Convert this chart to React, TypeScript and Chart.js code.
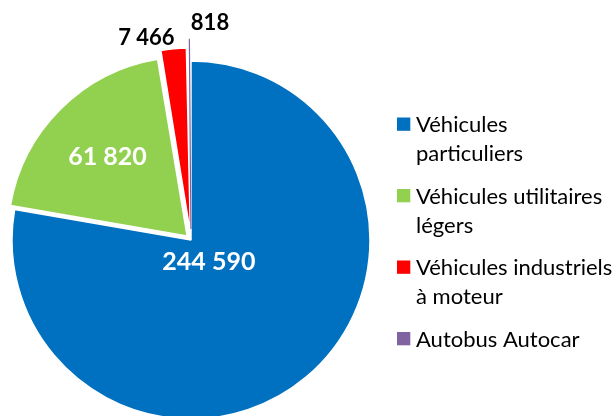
import React, { useEffect, useRef } from 'react';
import { Chart, registerables } from 'chart.js';

Chart.register(...registerables);

const categories = [
  'Véhicules particuliers',
  'Véhicules utilitaires légers',
  'Véhicules industriels à moteur',
  'Autobus Autocar',
];
const values = [244590, 61820, 7466, 818];
const colors = ['#0070C0', '#92D050', '#FF0000', '#8064A2'];
const explode = [0, 22, 28, 44];

const fmt = (v: number) => v.toString().replace(/\B(?=(\d{3})+(?!\d))/g, ' ');

const FONT = 'Lato, "Open Sans", sans-serif';

const sliceLabels = {
  id: 'sliceLabels',
  afterDatasetsDraw(chart: any) {
    const ctx = chart.ctx;
    const meta = chart.getDatasetMeta(0);
    meta.data.forEach((arc: any, i: number) => {
      const { x, y, startAngle, endAngle, outerRadius, circumference } = arc.getProps(
        ['x', 'y', 'startAngle', 'endAngle', 'outerRadius', 'circumference'],
        true
      );
      const off = explode[i] / 4;
      const fix = 1 - Math.sin(Math.min(Math.PI, circumference));
      const mid = (startAngle + endAngle) / 2;
      const cx = x + Math.cos(mid) * off;
      const cy = y + Math.sin(mid) * off;
      const R = outerRadius + off * fix;
      const text = fmt(values[i]);
      ctx.save();
      if (i < 2) {
        const size = 25;
        ctx.font = `bold ${size}px ${FONT}`;
        ctx.fillStyle = '#ffffff';
        ctx.textAlign = 'center';
        ctx.textBaseline = 'alphabetic';
        const d = i === 0 ? 0.155 * R : 0.63 * R;
        ctx.fillText(text, cx + Math.cos(mid) * d, cy + Math.sin(mid) * d + 0.358 * size);
      } else {
        const size = 22;
        ctx.font = `bold ${size}px ${FONT}`;
        ctx.fillStyle = '#000000';
        ctx.textBaseline = 'alphabetic';
        const px = cx + Math.cos(mid) * R;
        const py = cy + Math.sin(mid) * R;
        if (i === 2) {
          ctx.textAlign = 'right';
          ctx.fillText(text, px + 1, py - 4);
        } else {
          ctx.textAlign = 'left';
          ctx.fillText(text, px + 1.5, py - 9);
        }
      }
      ctx.restore();
    });
  },
};

const sideLegend = {
  id: 'sideLegend',
  afterDraw(chart: any) {
    const ctx = chart.ctx;
    const size = 22;
    const x0 = 397;
    const tx = 416;
    const maxW = 201;
    ctx.save();
    ctx.font = `${size}px ${FONT}`;
    ctx.textAlign = 'left';
    ctx.textBaseline = 'alphabetic';
    categories.forEach((label, i) => {
      const base = 132 + 71.5 * i;
      ctx.fillStyle = colors[i];
      ctx.fillRect(x0, base - 14.5, 13.3, 13.3);
      const words = label.split(' ');
      const lines: string[] = [];
      let cur = '';
      words.forEach((w) => {
        const t = cur ? cur + ' ' + w : w;
        if (cur && ctx.measureText(t).width > maxW) {
          lines.push(cur);
          cur = w;
        } else cur = t;
      });
      if (cur) lines.push(cur);
      ctx.fillStyle = '#000000';
      lines.forEach((ln, j) => ctx.fillText(ln, tx, base + 29 * j));
    });
    ctx.restore();
  },
};

export default function App() {
  const ref = useRef<HTMLCanvasElement>(null);
  useEffect(() => {
    if (!ref.current) return;
    const chart = new Chart(ref.current, {
      type: 'pie',
      data: {
        labels: categories,
        datasets: [
          {
            data: values,
            backgroundColor: colors,
            borderColor: ['#ffffff', '#ffffff', '#ffffff', '#8064A2'],
            borderWidth: [1.5, 1.5, 1.5, 1.2],
            offset: explode,
            radius: 179,
            clip: false,
          } as any,
        ],
      },
      options: {
        responsive: true,
        maintainAspectRatio: false,
        animation: false,
        layout: { padding: { left: 0, right: 234, top: 64, bottom: 0 } },
        plugins: {
          legend: { display: false },
          tooltip: { enabled: false },
        },
      },
      plugins: [sliceLabels, sideLegend],
    });
    return () => chart.destroy();
  }, []);
  return (
    <div style={{ position: 'fixed', left: 0, top: 0, width: 616, height: 416, background: '#fff' }}>
      <canvas ref={ref} />
    </div>
  );
}
